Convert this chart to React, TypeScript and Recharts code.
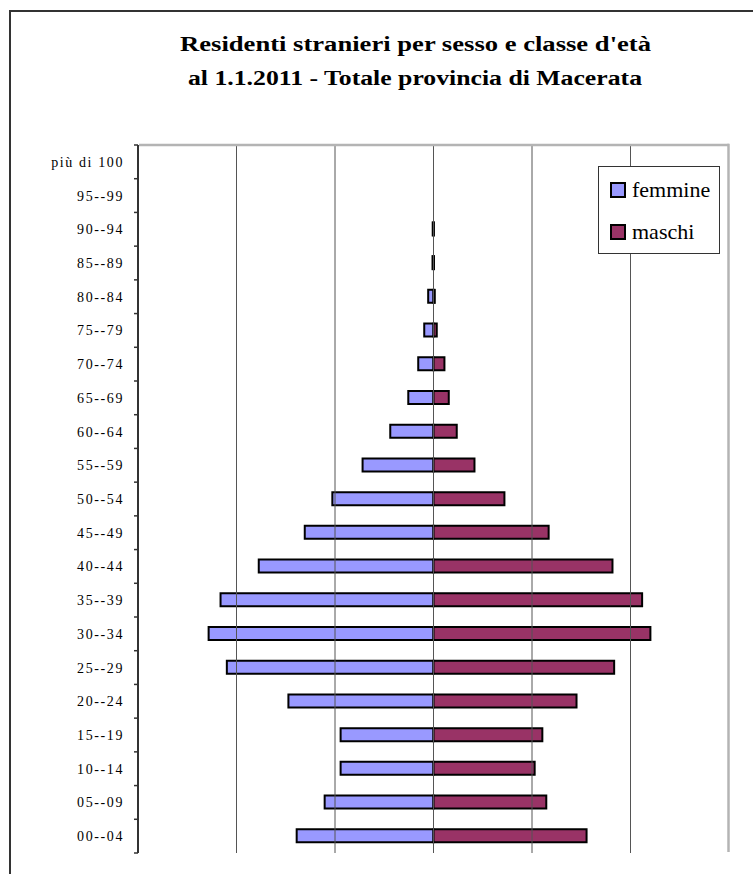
import React from 'react';
import { BarChart, Bar, XAxis, YAxis, ReferenceLine } from 'recharts';

// Age classes, bottom to top
const ageClasses = [
  '00--04', '05--09', '10--14', '15--19', '20--24', '25--29', '30--34',
  '35--39', '40--44', '45--49', '50--54', '55--59', '60--64', '65--69',
  '70--74', '75--79', '80--84', '85--89', '90--94', '95--99', 'più di 100',
];

// Foreign residents by sex (1.1.2011)
const femmine = [
  1389, 1105, 943, 943, 1473, 2098, 2283, 2162, 1774, 1307, 1027,
  720, 439, 256, 155, 94, 54, 10, 8, 0, 0,
];
const maschi = [
  1554, 1145, 1027, 1105, 1452, 1834, 2202, 2118, 1817, 1169, 720,
  416, 236, 155, 111, 33, 13, 5, 4, 0, 0,
];

const gridValues = [-2000, -1000, 0, 1000, 2000];
const X_MIN = -3000;
const X_MAX = 3000;

const data = ageClasses.map((eta, i) => ({
  eta,
  femmine: -femmine[i],
  maschi: maschi[i],
}));

const W = 753;
const H = 874;
const PLOT_LEFT = 138;
const PLOT_RIGHT = 729;
const PLOT_TOP = 145;
const PLOT_BOTTOM = 853;
const BAND = (PLOT_BOTTOM - PLOT_TOP) / ageClasses.length;
const Y_AXIS_W = 100;
const LABEL_GAP = 14;

const COL_F = '#9999FF';
const COL_M = '#993366';
const FRAME_GRAY = '#b4b4b4';
const serif = '"Liberation Serif", "Times New Roman", serif';

const AgeTick = (props: any) => {
  const { x, y, payload, index } = props;
  const axisX = x + LABEL_GAP;
  return (
    <g>
      <text
        x={x}
        y={y}
        dy={5}
        textAnchor="end"
        fontFamily={serif}
        fontSize={14}
        letterSpacing={1.6}
        fill="#000"
      >
        {payload.value}
      </text>
      <line x1={axisX - 4} x2={axisX} y1={y - BAND / 2} y2={y - BAND / 2} stroke="#333" strokeWidth={1.5} />
      {index === 0 && (
        <line x1={axisX - 4} x2={axisX} y1={y + BAND / 2} y2={y + BAND / 2} stroke="#333" strokeWidth={1.5} />
      )}
    </g>
  );
};

const legendItems = [
  { name: 'femmine', color: COL_F, top: 14 },
  { name: 'maschi', color: COL_M, top: 56 },
];

const LegendBox = () => (
  <div
    style={{
      position: 'absolute',
      left: 598,
      top: 166,
      width: 122,
      height: 88,
      boxSizing: 'border-box',
      border: '1px solid #333',
      background: '#fff',
      fontFamily: serif,
      fontSize: 22,
      color: '#000',
      zIndex: 5,
    }}
  >
    {legendItems.map((it) => (
      <div key={it.name} style={{ position: 'absolute', left: 11, top: it.top, display: 'flex', alignItems: 'center' }}>
        <span
          style={{
            display: 'inline-block',
            width: 16,
            height: 16,
            boxSizing: 'border-box',
            border: '2px solid #000',
            background: it.color,
            marginRight: 6,
          }}
        />
        <span style={{ lineHeight: '18px', whiteSpace: 'nowrap' }}>{it.name}</span>
      </div>
    ))}
  </div>
);

export default function App() {
  return (
    <div style={{ position: 'absolute', left: 0, top: 0, width: W, height: H, background: '#fff', overflow: 'hidden' }}>
      {/* outer frame and title */}
      <svg width={W} height={H} style={{ position: 'absolute', left: 0, top: 0 }}>
        <line x1={10} y1={11} x2={W} y2={11} stroke="#333" strokeWidth={2} />
        <line x1={10} y1={10} x2={10} y2={H} stroke="#333" strokeWidth={2} />
        <text x={180} y={51} fontFamily={serif} fontWeight="bold" fontSize={20.5} textLength={471} lengthAdjust="spacingAndGlyphs" fill="#000">
          Residenti stranieri per sesso e classe d'età
        </text>
        <text x={188} y={85} fontFamily={serif} fontWeight="bold" fontSize={20.5} textLength={454} lengthAdjust="spacingAndGlyphs" fill="#000">
          al 1.1.2011 - Totale provincia di Macerata
        </text>
      </svg>
      <div style={{ position: 'absolute', left: 0, top: 0, zIndex: 2 }}>
        <BarChart
          width={W}
          height={H}
          data={data}
          layout="vertical"
          stackOffset="sign"
          barSize={13}
          margin={{ top: PLOT_TOP, bottom: H - PLOT_BOTTOM, left: PLOT_LEFT - Y_AXIS_W, right: W - PLOT_RIGHT }}
        >
          {gridValues.map((v) => (
            <ReferenceLine key={v} x={v} stroke="#555" strokeWidth={1} ifOverflow="visible" />
          ))}
          <XAxis
            type="number"
            domain={[X_MIN, X_MAX]}
            allowDataOverflow
            ticks={gridValues}
            tick={false}
            tickLine={false}
            height={0}
            axisLine={{ stroke: '#444', strokeWidth: 2 }}
          />
          <YAxis
            type="category"
            dataKey="eta"
            reversed
            width={Y_AXIS_W}
            tickSize={LABEL_GAP}
            tickMargin={0}
            tickLine={false}
            interval={0}
            tick={<AgeTick />}
            axisLine={{ stroke: '#333', strokeWidth: 2 }}
          />
          <Bar dataKey="femmine" name="femmine" stackId="p" fill={COL_F} stroke="#000" strokeWidth={2} isAnimationActive={false} />
          <Bar dataKey="maschi" name="maschi" stackId="p" fill={COL_M} stroke="#000" strokeWidth={2} isAnimationActive={false} />
        </BarChart>
      </div>
      {/* plot-area frame: gray top and right edges */}
      <svg width={W} height={H} style={{ position: 'absolute', left: 0, top: 0, zIndex: 4, pointerEvents: 'none' }}>
        <line x1={PLOT_LEFT + 1} y1={PLOT_TOP} x2={PLOT_RIGHT} y2={PLOT_TOP} stroke={FRAME_GRAY} strokeWidth={2.5} />
        <line x1={PLOT_RIGHT - 0.5} y1={PLOT_TOP - 1.25} x2={PLOT_RIGHT - 0.5} y2={PLOT_BOTTOM - 1} stroke={FRAME_GRAY} strokeWidth={2.5} />
      </svg>
      <LegendBox />
    </div>
  );
}
